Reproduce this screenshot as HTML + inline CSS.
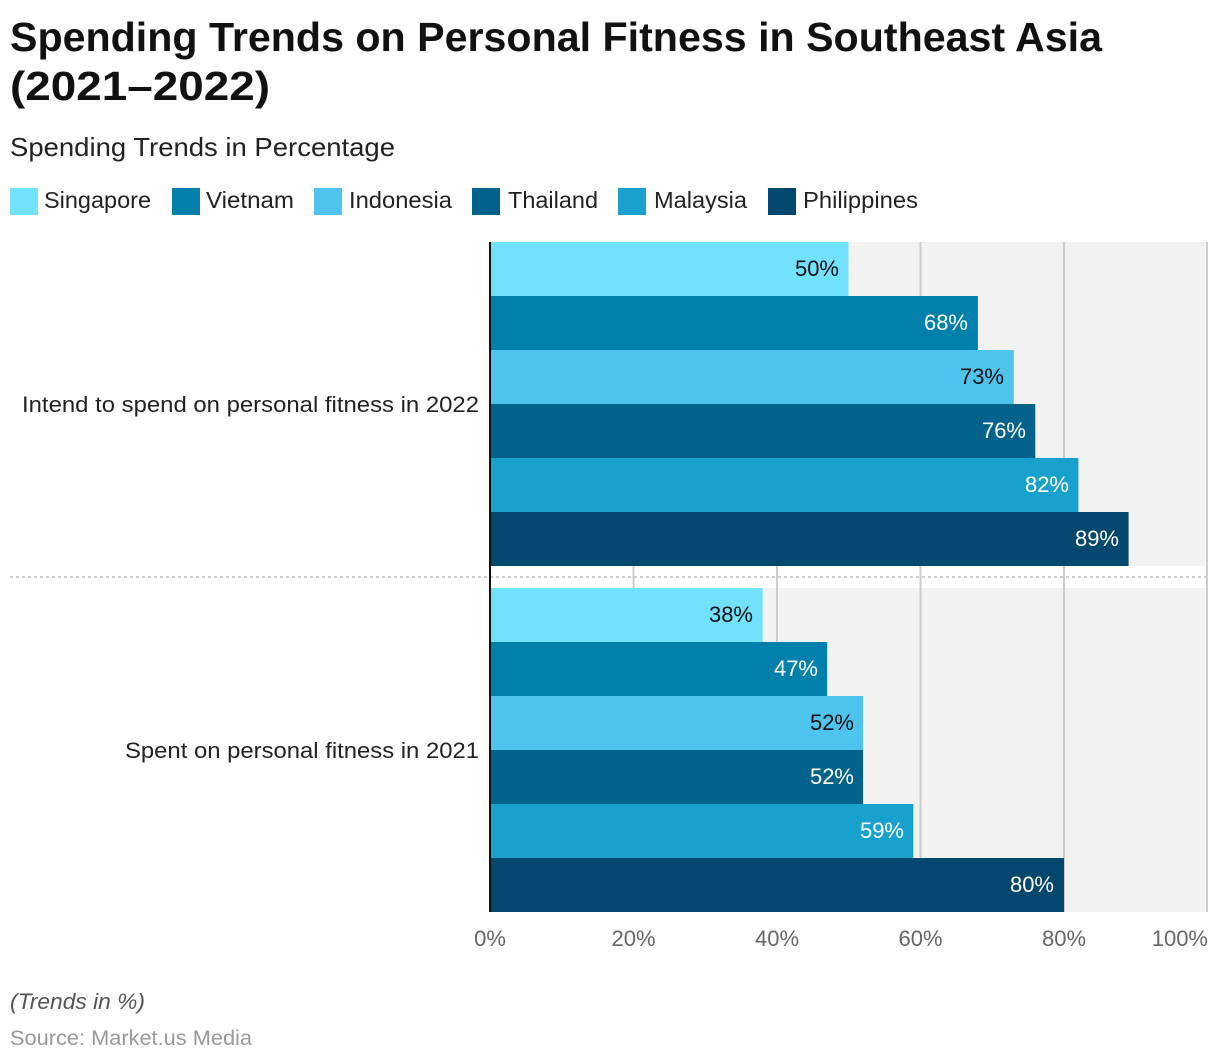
<!DOCTYPE html>
<html><head><meta charset="utf-8"><style>
html,body{margin:0;padding:0;background:#fff;}
svg{display:block;font-family:"Liberation Sans",Arial,sans-serif;}
</style></head><body>
<svg width="1220" height="1064" viewBox="0 0 1220 1064" xmlns="http://www.w3.org/2000/svg">
<text x="10" y="51" font-size="41" font-weight="bold" fill="#111" textLength="1092" lengthAdjust="spacingAndGlyphs">Spending Trends on Personal Fitness in Southeast Asia</text>
<text x="10" y="100" font-size="41" font-weight="bold" fill="#111" textLength="260" lengthAdjust="spacingAndGlyphs">(2021–2022)</text>
<text x="10" y="156" font-size="26" fill="#222" textLength="385" lengthAdjust="spacingAndGlyphs">Spending Trends in Percentage</text>
<g font-size="23" fill="#222">
<rect x="10" y="188" width="28" height="27" fill="#72e1fe"/><text x="44" y="208" textLength="107" lengthAdjust="spacingAndGlyphs">Singapore</text>
<rect x="172" y="188" width="28" height="27" fill="#0180ab"/><text x="206" y="208" textLength="88" lengthAdjust="spacingAndGlyphs">Vietnam</text>
<rect x="314" y="188" width="28" height="27" fill="#4dc3ee"/><text x="349" y="208" textLength="103" lengthAdjust="spacingAndGlyphs">Indonesia</text>
<rect x="472" y="188" width="28" height="27" fill="#01628b"/><text x="508" y="208" textLength="90" lengthAdjust="spacingAndGlyphs">Thailand</text>
<rect x="618" y="188" width="28" height="27" fill="#18a1cd"/><text x="654" y="208" textLength="93" lengthAdjust="spacingAndGlyphs">Malaysia</text>
<rect x="768" y="188" width="28" height="27" fill="#02476e"/><text x="803" y="208" textLength="115" lengthAdjust="spacingAndGlyphs">Philippines</text>
</g>
<rect x="490" y="242" width="718" height="324" fill="#f2f2f2"/>
<rect x="490" y="588" width="718" height="324" fill="#f2f2f2"/>
<g stroke="#cccccc" stroke-width="2">
<line x1="633.5" y1="242" x2="633.5" y2="912"/>
<line x1="777" y1="242" x2="777" y2="912"/>
<line x1="920.5" y1="242" x2="920.5" y2="912"/>
<line x1="1064" y1="242" x2="1064" y2="912"/>
<line x1="1207" y1="242" x2="1207" y2="912"/>
</g>
<line x1="10" y1="577" x2="1207" y2="577" stroke="#cccccc" stroke-width="2" stroke-dasharray="3,3"/>
<rect x="490" y="242" width="358.5" height="54" fill="#72e1fe"/>
<rect x="490" y="296" width="487.9" height="54" fill="#0180ab"/>
<rect x="490" y="350" width="523.8" height="54" fill="#4dc3ee"/>
<rect x="490" y="404" width="545.3" height="54" fill="#01628b"/>
<rect x="490" y="458" width="588.4" height="54" fill="#18a1cd"/>
<rect x="490" y="512" width="638.6" height="54" fill="#02476e"/>
<rect x="490" y="588" width="272.7" height="54" fill="#72e1fe"/>
<rect x="490" y="642" width="337.2" height="54" fill="#0180ab"/>
<rect x="490" y="696" width="373.1" height="54" fill="#4dc3ee"/>
<rect x="490" y="750" width="373.1" height="54" fill="#01628b"/>
<rect x="490" y="804" width="423.3" height="54" fill="#18a1cd"/>
<rect x="490" y="858" width="574" height="54" fill="#02476e"/>
<line x1="490" y1="242" x2="490" y2="912" stroke="#111" stroke-width="2"/>
<g font-size="22" text-anchor="end">
<text x="839" y="276" fill="#111">50%</text>
<text x="968" y="330" fill="#fff">68%</text>
<text x="1004" y="384" fill="#111">73%</text>
<text x="1026" y="438" fill="#fff">76%</text>
<text x="1069" y="492" fill="#fff">82%</text>
<text x="1119" y="546" fill="#fff">89%</text>
<text x="753" y="622" fill="#111">38%</text>
<text x="818" y="676" fill="#fff">47%</text>
<text x="854" y="730" fill="#111">52%</text>
<text x="854" y="784" fill="#fff">52%</text>
<text x="904" y="838" fill="#fff">59%</text>
<text x="1054" y="892" fill="#fff">80%</text>
</g>
<g font-size="22" fill="#222">
<text x="22" y="412" textLength="457" lengthAdjust="spacingAndGlyphs">Intend to spend on personal fitness in 2022</text>
<text x="125" y="758" textLength="354" lengthAdjust="spacingAndGlyphs">Spent on personal fitness in 2021</text>
</g>
<g font-size="22" fill="#666" text-anchor="middle">
<text x="490" y="946">0%</text>
<text x="633.5" y="946">20%</text>
<text x="777" y="946">40%</text>
<text x="920.5" y="946">60%</text>
<text x="1064" y="946">80%</text>
<text x="1208" y="946" text-anchor="end">100%</text>
</g>
<text x="10" y="1009" font-size="22" font-style="italic" fill="#555" textLength="135" lengthAdjust="spacingAndGlyphs">(Trends in %)</text>
<text x="10" y="1045" font-size="21" fill="#999" textLength="242" lengthAdjust="spacingAndGlyphs">Source: Market.us Media</text>
</svg>
</body></html>
